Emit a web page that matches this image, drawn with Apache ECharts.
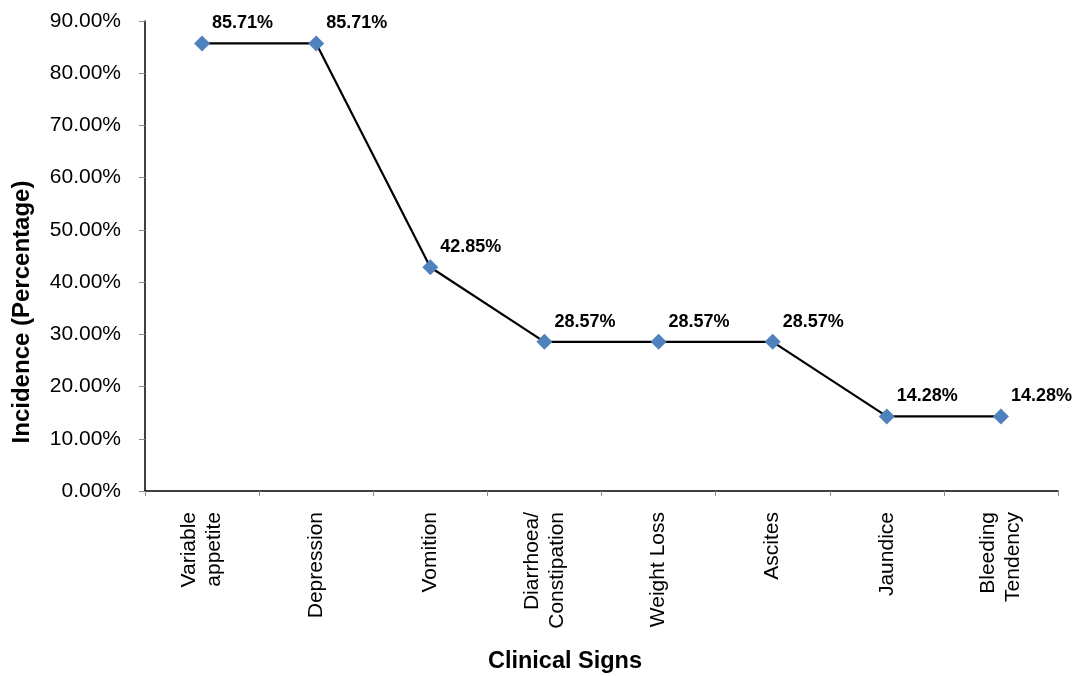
<!DOCTYPE html>
<html>
<head>
<meta charset="utf-8">
<script src="https://cdn.jsdelivr.net/npm/echarts@6/dist/echarts.min.js"></script>
<style>html,body{margin:0;padding:0;background:#fff}#c{width:1079px;height:676px}</style>
</head>
<body>
<div id="c"></div>
<script>
var categories = ['Variable\nappetite', 'Depression', 'Vomition', 'Diarrhoea/\nConstipation', 'Weight Loss', 'Ascites', 'Jaundice', 'Bleeding\nTendency'];
var incidence = [85.71, 85.71, 42.85, 28.57, 28.57, 28.57, 14.28, 14.28];
var yTickLabels = ['0.00%', '10.00%', '20.00%', '30.00%', '40.00%', '50.00%', '60.00%', '70.00%', '80.00%', '90.00%'];
var xTitle = 'Clinical Signs';
var yTitle = 'Incidence (Percentage)';

var font = 'Liberation Sans, Arial, sans-serif';
var chart = echarts.init(document.getElementById('c'), null, {renderer: 'canvas'});
chart.setOption({
  animation: false,
  backgroundColor: '#fff',
  grid: {left: 145, right: 21, top: 21, bottom: 185, containLabel: false},
  xAxis: {
    type: 'category',
    data: categories,
    boundaryGap: true,
    axisLine: {lineStyle: {color: '#000', width: 1.5}},
    axisTick: {show: true, length: 5, lineStyle: {color: '#888'}},
    axisLabel: {rotate: 90, color: '#000', fontSize: 21, fontFamily: font, margin: 21, lineHeight: 25, interval: 0}
  },
  yAxis: {
    type: 'value',
    min: 0, max: 90, interval: 10,
    axisLine: {show: true, lineStyle: {color: '#000', width: 1.5}},
    axisTick: {show: true, length: 6, lineStyle: {color: '#888'}},
    splitLine: {show: false},
    axisLabel: {color: '#000', fontSize: 21, fontFamily: font, margin: 24,
      formatter: function (v) { return yTickLabels[Math.round(v / 10)]; }}
  },
  series: [{
    type: 'line',
    data: incidence,
    symbol: 'diamond',
    symbolSize: 16,
    lineStyle: {color: '#000', width: 2.2},
    itemStyle: {color: '#4F81BD'},
    label: {
      show: true, position: 'right', distance: 2, offset: [0, -20],
      fontSize: 18, fontWeight: 'bold', color: '#000', fontFamily: font,
      formatter: function (p) { return p.value.toFixed(2) + '%'; }
    },
    z: 3
  }],
  graphic: [
    {type: 'text', x: 22, y: 312, rotation: Math.PI / 2,
     style: {text: yTitle, font: 'bold 24px ' + font, fill: '#000', textAlign: 'center', textVerticalAlign: 'middle'}},
    {type: 'text', x: 565, y: 662,
     style: {text: xTitle, font: 'bold 23.5px ' + font, fill: '#000', textAlign: 'center', textVerticalAlign: 'middle'}}
  ]
});
</script>
</body>
</html>
